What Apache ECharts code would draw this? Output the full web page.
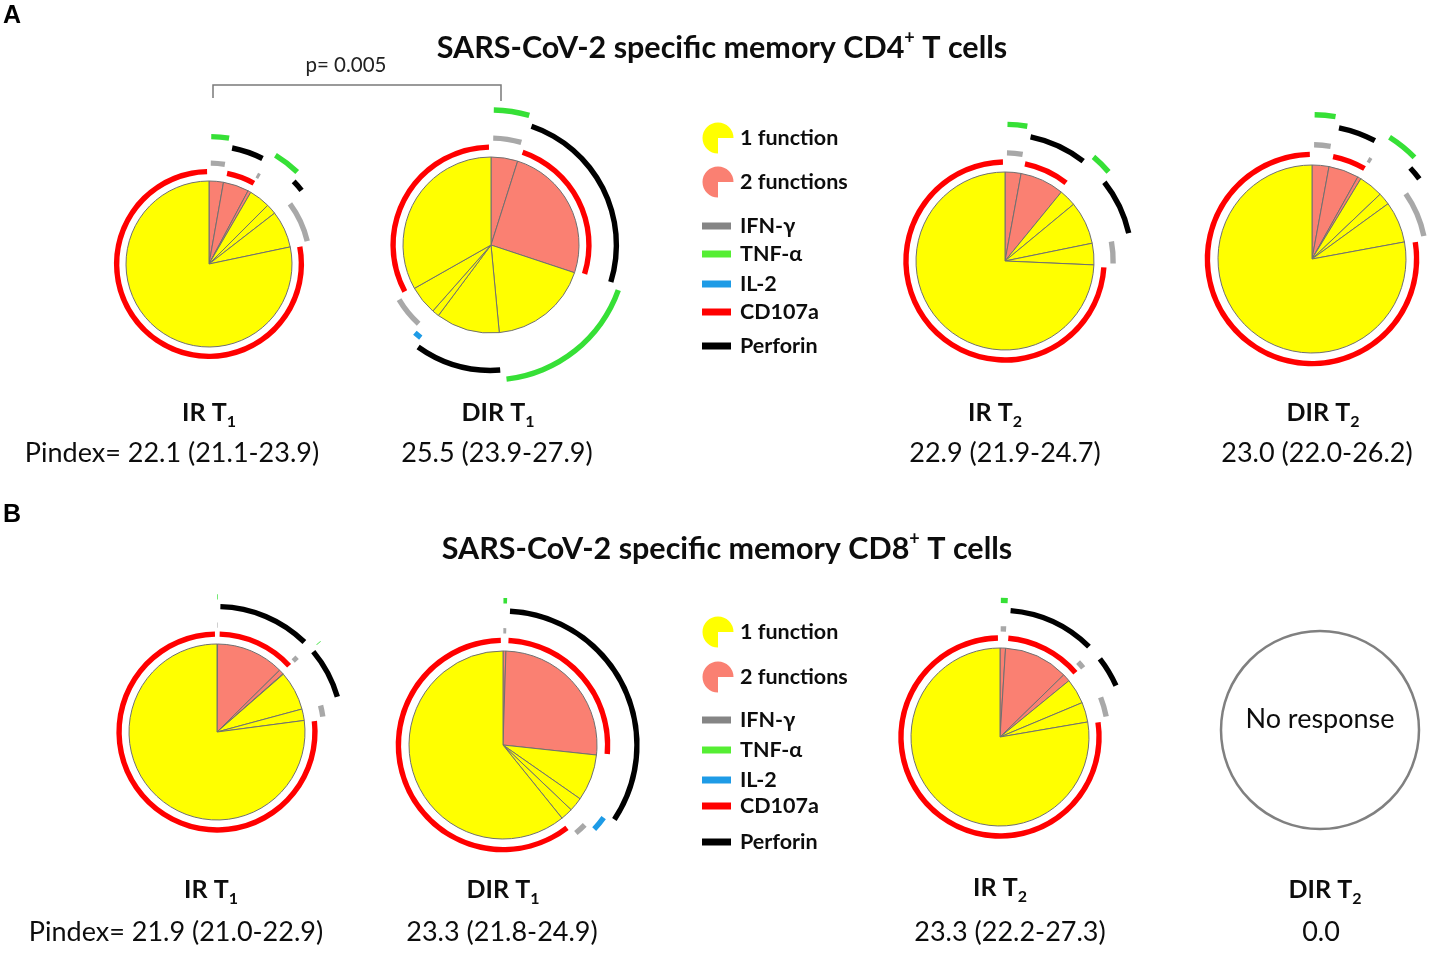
<!DOCTYPE html>
<html><head><meta charset="utf-8">
<script src="https://cdn.jsdelivr.net/npm/echarts@6/dist/echarts.min.js"></script>
<style>html,body{margin:0;padding:0;background:#fff}#chart{width:1439px;height:963px}</style>
</head><body><div id="chart"></div>
<script>
// ---------------- DATA ----------------
const markers = ['IFN-γ', 'TNF-α', 'IL-2', 'CD107a', 'Perforin'];
const functionLabels = ['1 function', '2 functions'];
const panelLetters = ['A', 'B'];
const panelTitleMain = ['SARS-CoV-2 specific memory CD4', 'SARS-CoV-2 specific memory CD8'];
const panelTitleTail = ' T cells';
const groupNames = ['IR T1', 'DIR T1', 'IR T2', 'DIR T2'];
const pValueText = 'p= 0.005';
const noResponseText = 'No response';

// CD4+ (panel A) – slices clockwise from 12 o'clock, % of response
const cd4IrT1Combos  = ['IFN-γ+TNF-α', 'CD107a+Perforin', 'CD107a+IFN-γ', 'TNF-α', 'Perforin', 'IFN-γ', 'CD107a'];
const cd4IrT1Values  = [2.8, 5.0, 0.6, 4.1, 2.0, 7.2, 78.3];
const cd4DirT1Combos = ['IFN-γ+TNF-α', 'CD107a+Perforin', 'TNF-α', 'Perforin', 'IL-2', 'IFN-γ', 'CD107a'];
const cd4DirT1Values = [4.9, 25.2, 18.4, 11.7, 1.3, 5.3, 33.2];
const cd4IrT2Combos  = ['IFN-γ+TNF-α', 'CD107a+Perforin', 'TNF-α', 'Perforin', 'IFN-γ', 'CD107a'];
const cd4IrT2Values  = [2.9, 8.0, 3.1, 7.8, 3.9, 74.3];
const cd4DirT2Combos = ['IFN-γ+TNF-α', 'CD107a+Perforin', 'CD107a+IFN-γ', 'TNF-α', 'Perforin', 'IFN-γ', 'CD107a'];
const cd4DirT2Values = [2.9, 5.2, 0.6, 4.2, 2.1, 7.1, 77.9];
const cd4Pindex = ['Pindex= 22.1 (21.1-23.9)', '25.5 (23.9-27.9)', '22.9 (21.9-24.7)', '23.0 (22.0-26.2)'];

// CD8+ (panel B)
const cd8IrT1Combos  = ['IFN-γ+TNF-α', 'CD107a+Perforin', 'CD107a+IFN-γ', 'TNF-α', 'Perforin', 'IFN-γ', 'CD107a'];
const cd8IrT1Values  = [0.1, 12.5, 0.9, 0.1, 7.2, 2.1, 77.1];
const cd8DirT1Combos = ['IFN-γ+TNF-α', 'CD107a+Perforin', 'Perforin', 'IL-2', 'IFN-γ', 'CD107a'];
const cd8DirT1Values = [0.5, 26.2, 8.0, 2.4, 2.1, 60.8];
const cd8IrT2Combos  = ['IFN-γ+TNF-α', 'CD107a+Perforin', 'CD107a+IFN-γ', 'Perforin', 'IFN-γ', 'CD107a'];
const cd8IrT2Values  = [1.0, 11.7, 1.4, 4.6, 3.6, 77.7];
const cd8DirT2Combos = [];
const cd8DirT2Values = [];
const cd8Pindex = ['Pindex= 21.9 (21.0-22.9)', '23.3 (21.8-24.9)', '23.3 (22.2-27.3)', '0.0'];

// ---------------- STYLE / LAYOUT ----------------
const FONT = 'Lato, "Open Sans", sans-serif';
const TXT = '#0d0d0d';
const sliceColor = { 1: '#FFFF00', 2: '#FA8072' };
const markerColor = { 'IFN-γ': '#A8A8A8', 'TNF-α': '#36E036', 'IL-2': '#1E9BE6', 'CD107a': '#FF0000', 'Perforin': '#000000' };
const legendBarColor = Object.assign({}, markerColor, { 'IFN-γ': '#858585', 'TNF-α': '#55EE33' });
const ringOrder = ['CD107a', 'IFN-γ', 'IL-2', 'Perforin', 'TNF-α'];
const ringFactor = [0.113, 0.215, 0.32, 0.425, 0.535];
const ringHalf = 2.7;

const panelData = [
  { pies: [[cd4IrT1Combos, cd4IrT1Values], [cd4DirT1Combos, cd4DirT1Values], [cd4IrT2Combos, cd4IrT2Values], [cd4DirT2Combos, cd4DirT2Values]], pindex: cd4Pindex },
  { pies: [[cd8IrT1Combos, cd8IrT1Values], [cd8DirT1Combos, cd8DirT1Values], [cd8IrT2Combos, cd8IrT2Values], [cd8DirT2Combos, cd8DirT2Values]], pindex: cd8Pindex }
];
const panelLayout = [
  { title: [722, 48], letter: [12, 16],
    pies: [[209, 264, 83], [491, 245, 88], [1005, 261, 89], [1312, 259, 94]],
    names: [[209, 413], [498, 413], [995, 413], [1323, 413]],
    pindex: [[172, 453], [497, 453], [1005, 453], [1317, 453]],
    legendY: [138, 182, 226, 254, 284, 312, 346] },
  { title: [727, 549], letter: [12, 515],
    pies: [[217, 732, 88], [503, 745, 94], [1000, 737, 89], [1320, 730, 99]],
    names: [[211, 890], [503, 890], [1000, 888], [1325, 890]],
    pindex: [[176, 932], [502, 932], [1010, 932], [1321, 932]],
    legendY: [632, 677, 720, 750, 780, 806, 842] }
];
const legendX = { icon: 718, barL: 702, barW: 29, text: 740 };

// ---------------- BUILD ----------------
const TRANSPARENT = 'rgba(0,0,0,0)';
const hasMarker = (combo, m) => combo.split('+').indexOf(m) >= 0;

function ringData(combos, values, marker) {
  const data = [];
  let i = 0;
  while (i < values.length) {
    const has = hasMarker(combos[i], marker);
    let j = i, sum = 0;
    while (j < values.length && hasMarker(combos[j], marker) === has) { sum += values[j]; j++; }
    if (has) {
      const pad = Math.min(0.33, sum * 0.1);
      data.push({ value: pad, itemStyle: { color: TRANSPARENT } });
      data.push({ name: marker, value: sum - 2 * pad, itemStyle: { color: markerColor[marker] } });
      data.push({ value: pad, itemStyle: { color: TRANSPARENT } });
    } else {
      data.push({ value: sum, itemStyle: { color: TRANSPARENT } });
    }
    i = j;
  }
  return data;
}

const pieCommon = {
  type: 'pie', startAngle: 90, clockwise: true, silent: true, animation: false,
  avoidLabelOverlap: false, label: { show: false }, labelLine: { show: false },
  emphasis: { disabled: true }, minAngle: 0, padAngle: 0
};

const series = [];
const graphic = [];

function txt(x, y, text, opts) {
  const st = Object.assign({
    text: text, x: 0, y: 0, fontFamily: FONT, fontSize: 24, fontWeight: 'normal',
    fill: TXT, align: 'center', verticalAlign: 'middle', textAlign: 'center', textVerticalAlign: 'middle'
  }, opts || {});
  graphic.push({ type: 'text', x: x, y: y, silent: true, style: st });
}

panelData.forEach((pd, p) => {
  const L = panelLayout[p];
  // panel letter & title
  txt(L.letter[0], L.letter[1], panelLetters[p], { fontSize: 25, fontWeight: 'bold', fontFamily: 'Arial, "Liberation Sans", sans-serif', fill: '#000' });
  txt(L.title[0], L.title[1], '{t|' + panelTitleMain[p] + '}{sup|+}{t|' + panelTitleTail + '}', {
    rich: {
      t: { fontFamily: FONT, fontSize: 30.5, fontWeight: 'bold', fill: TXT, lineHeight: 38, verticalAlign: 'middle' },
      sup: { fontFamily: FONT, fontSize: 18, fontWeight: 'bold', fill: TXT, lineHeight: 38, verticalAlign: 'top' }
    }
  });

  pd.pies.forEach((pie, k) => {
    const combos = pie[0], values = pie[1];
    const [cx, cy, r] = L.pies[k];
    if (values.length) {
      series.push(Object.assign({}, pieCommon, {
        center: [cx, cy], radius: [0, r],
        itemStyle: { borderColor: '#707070', borderWidth: 1 },
        data: values.map((v, i) => ({
          name: combos[i], value: v,
          itemStyle: { color: sliceColor[combos[i].split('+').length] }
        }))
      }));
      ringOrder.forEach((m, ri) => {
        if (!combos.some(c => hasMarker(c, m))) return;
        const R = r * (1 + ringFactor[ri]);
        series.push(Object.assign({}, pieCommon, {
          center: [cx, cy], radius: [R - ringHalf, R + ringHalf],
          itemStyle: { borderWidth: 0 },
          data: ringData(combos, values, m)
        }));
      });
    } else {
      graphic.push({ type: 'circle', silent: true, shape: { cx: cx, cy: cy, r: r },
        style: { fill: '#fff', stroke: '#808080', lineWidth: 2.5 } });
      txt(cx, cy - 11, noResponseText, { fontSize: 27 });
    }
    const nm = groupNames[k];
    txt(L.names[k][0], L.names[k][1], '{b|' + nm.slice(0, -1) + '}{s|' + nm.slice(-1) + '}', {
      rich: {
        b: { fontFamily: FONT, fontSize: 25, fontWeight: 'bold', fill: TXT, lineHeight: 34, verticalAlign: 'middle' },
        s: { fontFamily: FONT, fontSize: 16, fontWeight: 'bold', fill: TXT, lineHeight: 34, verticalAlign: 'bottom' }
      }
    });
    txt(L.pindex[k][0], L.pindex[k][1], pd.pindex[k], { fontSize: 27 });
  });

  // legend
  const ly = L.legendY;
  functionLabels.forEach((lab, i) => {
    graphic.push({ type: 'sector', silent: true,
      shape: { cx: legendX.icon, cy: ly[i], r: 15.5, r0: 0, startAngle: Math.PI / 2, endAngle: Math.PI * 2, clockwise: true },
      style: { fill: sliceColor[i + 1] } });
    txt(legendX.text, ly[i], lab, { fontSize: 21.5, fontWeight: 'bold', align: 'left', textAlign: 'left' });
  });
  markers.forEach((m, i) => {
    const y = ly[i + 2];
    graphic.push({ type: 'rect', silent: true, shape: { x: legendX.barL, y: y - 3.5, width: legendX.barW, height: 7 },
      style: { fill: legendBarColor[m] } });
    txt(legendX.text, y, m, { fontSize: 21.5, fontWeight: 'bold', align: 'left', textAlign: 'left' });
  });
});

// significance bracket between CD4 IR T1 and DIR T1
graphic.push({ type: 'polyline', silent: true,
  shape: { points: [[213, 98], [213, 85], [501, 85], [501, 101]] },
  style: { stroke: '#7a7a7a', lineWidth: 1.5, fill: null } });
txt(346, 65, pValueText, { fontSize: 20.5, fill: '#222' });

const chart = echarts.init(document.getElementById('chart'));
chart.setOption({ animation: false, backgroundColor: '#ffffff', series: series, graphic: { elements: graphic } });
</script></body></html>
